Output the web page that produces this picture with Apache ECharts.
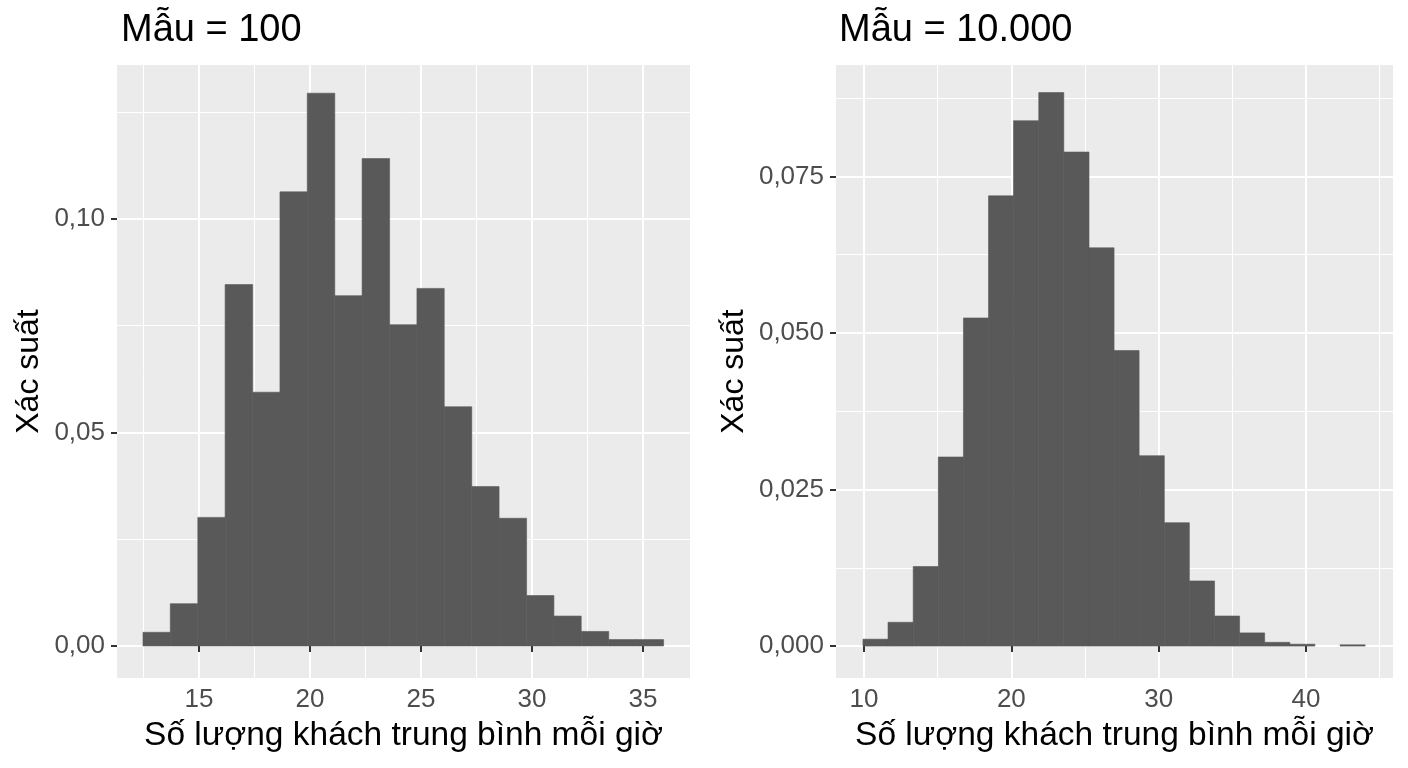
<!DOCTYPE html>
<html>
<head>
<meta charset="utf-8">
<script src="https://cdn.jsdelivr.net/npm/echarts@6.0.0/dist/echarts.min.js"></script>
<style>
  html, body { margin: 0; padding: 0; background: #fff; }
  #main { width: 1408px; height: 768px; }
</style>
</head>
<body>
<div id="main"></div>
<script>
// histogram bins (edges + density per bin)
var leftEdges = [12.48, 13.71, 14.95, 16.18, 17.42, 18.65, 19.88, 21.12, 22.35, 23.59,
                 24.82, 26.05, 27.29, 28.52, 29.76, 30.99, 32.22, 33.46, 34.69, 35.93];
var leftDensity = [0.0032, 0.0099, 0.0301, 0.0846, 0.0594, 0.1063, 0.1294, 0.0820, 0.1141, 0.0752,
                   0.0837, 0.0560, 0.0373, 0.0299, 0.0118, 0.0070, 0.0034, 0.0015, 0.0015];

var rightEdges = [9.93, 11.63, 13.34, 15.04, 16.75, 18.45, 20.15, 21.86, 23.56, 25.27,
                  26.97, 28.67, 30.38, 32.08, 33.79, 35.49, 37.19, 38.90, 40.60, 42.31, 44.01];
var rightDensity = [0.0011, 0.0038, 0.0127, 0.0302, 0.0524, 0.0719, 0.0839, 0.0884, 0.0789, 0.0636,
                    0.0472, 0.0304, 0.0197, 0.0104, 0.0048, 0.0021, 0.0006, 0.0003, 0.0000, 0.0002];

// tick values
var leftXTicks = [15, 20, 25, 30, 35];
var leftXMinor = [12.5, 17.5, 22.5, 27.5, 32.5];
var leftYTicks = [0, 0.05, 0.10];
var leftYMinor = [0.025, 0.075, 0.125];
var rightXTicks = [10, 20, 30, 40];
var rightXMinor = [15, 25, 35, 45];
var rightYTicks = [0, 0.025, 0.05, 0.075];
var rightYMinor = [0.0125, 0.0375, 0.0625, 0.0875];

var titles = ['Mẫu = 100', 'Mẫu = 10.000'];
var xName = 'Số lượng khách trung bình mỗi giờ';
var yName = 'Xác suất';

var FONT = 'Liberation Sans, Arial, sans-serif';

function bins(edges, dens) {
  var out = [];
  for (var i = 0; i < dens.length; i++) out.push([edges[i], edges[i + 1], dens[i]]);
  return out;
}

function majorX(grid, min, max, ticks) {
  return {
    type: 'value', gridIndex: grid, min: min, max: max,
    axisLine: { show: false },
    axisTick: { show: true, length: 6, customValues: ticks, lineStyle: { color: '#333', width: 2 } },
    axisLabel: { customValues: ticks, margin: 9, fontSize: 26, color: '#4d4d4d', fontFamily: FONT },
    splitLine: { show: true, lineStyle: { color: '#fff', width: 2 } },
    name: xName, nameLocation: 'middle', nameGap: 41,
    nameTextStyle: { fontSize: 33.5, color: '#000', fontFamily: FONT }
  };
}
function minorX(grid, min, max, ticks) {
  return {
    type: 'value', gridIndex: grid, min: min, max: max, position: 'top',
    axisLine: { show: false },
    axisTick: { show: false, customValues: ticks },
    axisLabel: { show: false },
    splitLine: { show: true, lineStyle: { color: '#fff', width: 1 } }
  };
}
function majorY(grid, min, max, ticks, digits, gap) {
  return {
    type: 'value', gridIndex: grid, min: min, max: max,
    axisLine: { show: false },
    axisTick: { show: true, length: 6, customValues: ticks, lineStyle: { color: '#333', width: 2 } },
    axisLabel: {
      customValues: ticks, margin: 12, fontSize: 26, color: '#4d4d4d', fontFamily: FONT,
      formatter: function (v) { return v.toFixed(digits).replace('.', ','); }
    },
    splitLine: { show: true, lineStyle: { color: '#fff', width: 2 } },
    name: yName, nameLocation: 'middle', nameGap: gap, nameRotate: 90,
    nameTextStyle: { fontSize: 32, color: '#000', fontFamily: FONT }
  };
}
function minorY(grid, min, max, ticks) {
  return {
    type: 'value', gridIndex: grid, min: min, max: max, position: 'right',
    axisLine: { show: false },
    axisTick: { show: false, customValues: ticks },
    axisLabel: { show: false },
    splitLine: { show: true, lineStyle: { color: '#fff', width: 1 } }
  };
}

function renderBin(params, api) {
  if (!(api.value(2) > 0)) return null;   // empty bin: draw nothing
  var top = api.coord([api.value(0), api.value(2)]);
  var bot = api.coord([api.value(1), 0]);
  return {
    type: 'rect',
    shape: { x: top[0], y: top[1], width: bot[0] - top[0], height: bot[1] - top[1] },
    style: { fill: '#595959', stroke: '#595959', lineWidth: 0.6 }
  };
}

var chart = echarts.init(document.getElementById('main'));
chart.setOption({
  animation: false,
  backgroundColor: '#fff',
  title: [
    { text: titles[0], left: 116, top: 7, textStyle: { fontSize: 38, fontWeight: 'normal', color: '#000', fontFamily: FONT } },
    { text: titles[1], left: 834, top: 7, textStyle: { fontSize: 38, fontWeight: 'normal', color: '#000', fontFamily: FONT } }
  ],
  grid: [
    { left: 117, top: 65, width: 573, height: 613, show: true, backgroundColor: '#ebebeb', borderWidth: 0 },
    { left: 836, top: 65, width: 557, height: 613, show: true, backgroundColor: '#ebebeb', borderWidth: 0 }
  ],
  xAxis: [
    majorX(0, 11.31, 37.12, leftXTicks),
    minorX(0, 11.31, 37.12, leftXMinor),
    majorX(1, 8.1, 45.9, rightXTicks),
    minorX(1, 8.1, 45.9, rightXMinor)
  ],
  yAxis: [
    majorY(0, -0.0075, 0.136, leftYTicks, 2, 72),
    minorY(0, -0.0075, 0.136, leftYMinor),
    majorY(1, -0.0051, 0.0928, rightYTicks, 3, 86),
    minorY(1, -0.0051, 0.0928, rightYMinor)
  ],
  series: [
    { type: 'custom', xAxisIndex: 0, yAxisIndex: 0, renderItem: renderBin,
      encode: { x: [0, 1], y: 2 }, data: bins(leftEdges, leftDensity) },
    { type: 'custom', xAxisIndex: 2, yAxisIndex: 2, renderItem: renderBin,
      encode: { x: [0, 1], y: 2 }, data: bins(rightEdges, rightDensity) }
  ]
});
</script>
</body>
</html>
